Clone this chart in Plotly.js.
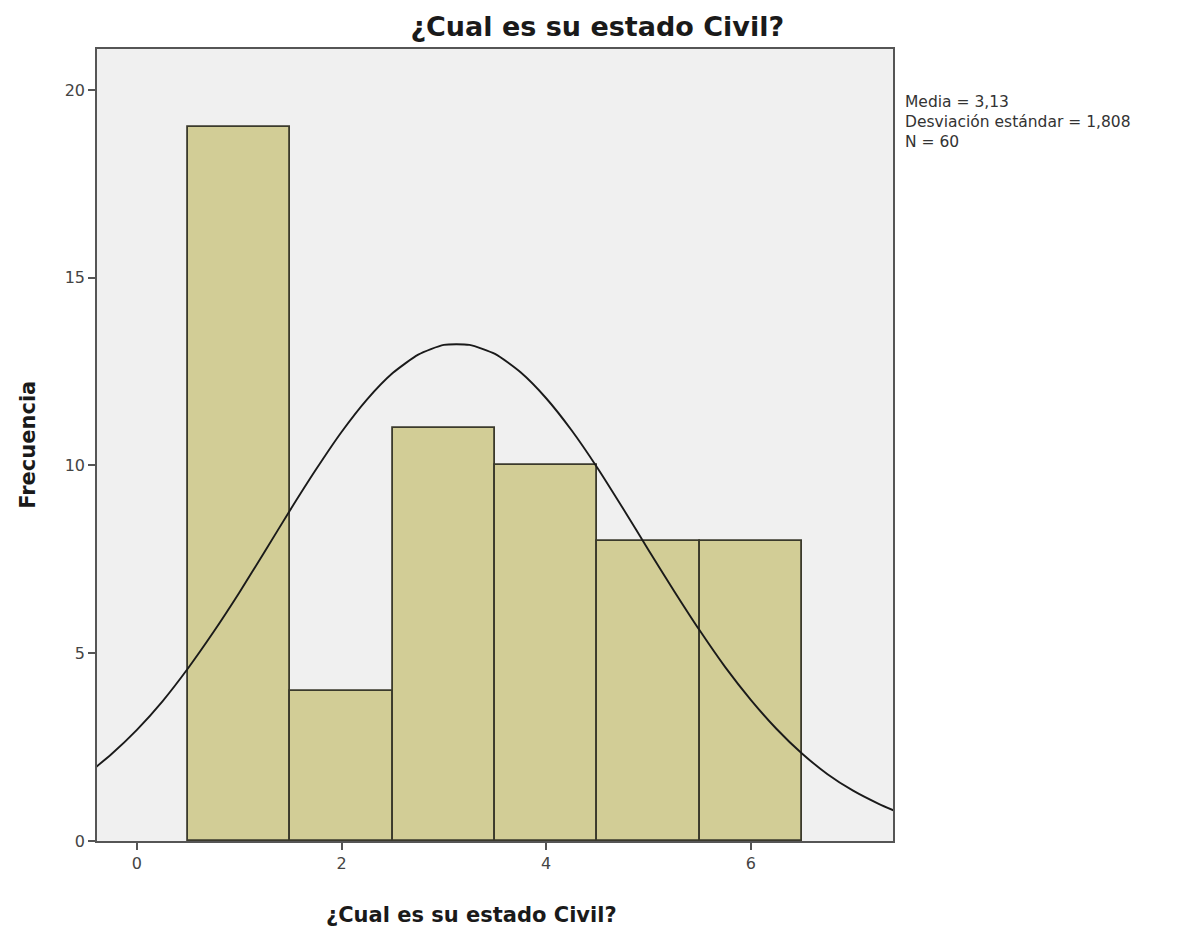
<!DOCTYPE html>
<html><head><meta charset="utf-8">
<script src="https://cdn.plot.ly/plotly-3.0.1.min.js"></script>
<style>body{margin:0;background:#fff}</style>
</head><body><div id="chart" style="width:1178px;height:930px"></div>
<script>
const binCenters = [1, 2, 3, 4, 5, 6];
const frequencies = [19, 4, 11, 10, 8, 8];
const curveX = [-0.4, -0.25, 0, 0.25, 0.5, 0.75, 1, 1.25, 1.5, 1.75, 2, 2.25, 2.5, 2.75, 3, 3.25, 3.5, 3.75, 4, 4.25, 4.5, 4.75, 5, 5.25, 5.5, 5.75, 6, 6.25, 6.5, 6.75, 7, 7.25, 7.4];
const curveY = [1.97, 2.31, 2.96, 3.72, 4.6, 5.57, 6.61, 7.71, 8.82, 9.89, 10.89, 11.76, 12.46, 12.95, 13.21, 13.21, 12.97, 12.48, 11.79, 10.93, 9.94, 8.86, 7.75, 6.66, 5.61, 4.63, 3.76, 2.99, 2.33, 1.78, 1.34, 0.99, 0.81];
const xTicks = [0, 2, 4, 6];
const yTicks = [0, 5, 10, 15, 20];
const titleText = "¿Cual es su estado Civil?";
const xTitle = "¿Cual es su estado Civil?";
const yTitle = "Frecuencia";
const statsLines = ["Media = 3,13", "Desviación estándar = 1,808", "N = 60"];

const font = "DejaVu Sans, Liberation Sans, Arial, sans-serif";
const data = [
  {type:'bar', x:binCenters, y:frequencies, width:1,
   marker:{color:'#d2cd96', line:{color:'#3b3a2c', width:1.8}}, hoverinfo:'x+y'},
  {type:'scatter', mode:'lines', x:curveX, y:curveY, line:{color:'#1a1a1a', width:1.9, shape:'spline', smoothing:0.6}, hoverinfo:'skip'}
];
const layout = {
  width:1178, height:930,
  margin:{l:97, r:285, t:49, b:89},
  paper_bgcolor:'#ffffff', plot_bgcolor:'#f0f0f0',
  showlegend:false, bargap:0,
  font:{family:font, color:'#333'},
  title:{text:titleText, font:{family:font, size:27, color:'#1a1a1a', weight:'bold'}, x:0.507, xanchor:'center', y:0.971, yanchor:'middle', xref:'container', yref:'container'},
  xaxis:{range:[-0.39, 7.39], tickvals:xTicks, ticktext:xTicks.map(String), ticks:'outside', ticklen:7, tickcolor:'#555', tickwidth:1.5,
    showgrid:false, zeroline:false, showline:true, linecolor:'#555', linewidth:1.5, mirror:true,
    tickfont:{family:font, size:16, color:'#444'}},
  yaxis:{range:[0, 21.09], tickvals:yTicks, ticktext:yTicks.map(String), ticks:'outside', ticklen:7, tickcolor:'#555', tickwidth:1.5,
    showgrid:false, zeroline:false, showline:true, linecolor:'#555', linewidth:1.5, mirror:true,
    tickfont:{family:font, size:16, color:'#444'}},
  annotations:[
    {text:'<b>'+xTitle+'</b>', xref:'paper', yref:'paper', x:0.47, y:-0.093, xanchor:'center', yanchor:'middle', showarrow:false, font:{family:font, size:21, color:'#1a1a1a'}},
    {text:'<b>'+yTitle+'</b>', xref:'paper', yref:'paper', x:-0.087, y:0.5, xanchor:'center', yanchor:'middle', textangle:-90, showarrow:false, font:{family:font, size:21, color:'#1a1a1a'}},
    {text:statsLines.join('<br>'), xref:'paper', yref:'paper', x:1.014, y:(841 - 92)/792, xanchor:'left', yanchor:'top', align:'left', showarrow:false, borderpad:0,
     font:{family:font, size:15.5, color:'#333'}}
  ]
};
Plotly.newPlot('chart', data, layout, {displayModeBar:false});
</script></body></html>
